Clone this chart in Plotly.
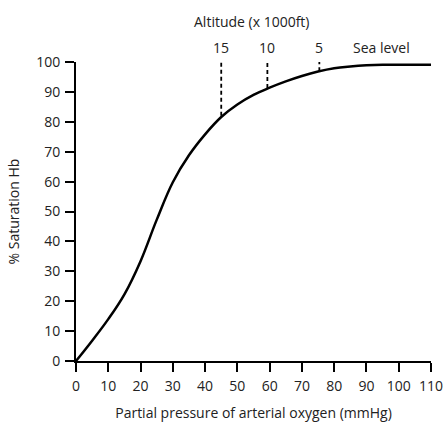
import plotly.graph_objects as go

# Oxygen-haemoglobin dissociation curve
po2 = [0, 5, 10, 15, 20, 25, 30, 35, 40, 45, 50, 55, 60, 65, 70, 75, 80, 85, 90, 95, 100, 105, 110]
sat = [0, 6.8, 14.0, 22.3, 33.4, 47.2, 59.8, 68.8, 75.8, 81.6, 85.8, 89, 91.4, 93.5, 95.3, 96.8, 97.9, 98.5, 98.9, 99.1, 99.1, 99.1, 99.1]

# Altitude markers (x 1000 ft)
alt_po2 = [45, 59.3, 75.4]
alt_sat = [82, 91.3, 96.9]
alt_labels = ["15", "10", "5"]
sea_level_x = 94.6

x_ticks = list(range(0, 111, 10))
y_ticks = list(range(0, 101, 10))

FONT = "'Open Sans', Lato, sans-serif"
TXT = "#222"
FS = 14

W, H, L, R, T, B = 443, 427, 75.5, 12, 61.5, 65.5
ph = H - T - B

def ypaper(px):
    return (H - B - px) / ph

fig = go.Figure()
fig.add_trace(go.Scatter(x=po2, y=sat, mode="lines",
                         line=dict(color="black", width=2.5, shape="spline", smoothing=1.1),
                         hoverinfo="skip", showlegend=False))

for xp, yp in zip(alt_po2, alt_sat):
    fig.add_trace(go.Scatter(x=[xp, xp], y=[yp, 100.3], mode="lines",
                             line=dict(color="black", width=1.8, dash="4px,3px"),
                             hoverinfo="skip", showlegend=False))

for xp, lab in zip(alt_po2, alt_labels):
    fig.add_annotation(x=xp, xref="x", y=ypaper(47), yref="paper", yanchor="middle",
                       text=lab, showarrow=False,
                       font=dict(family=FONT, size=FS, color=TXT))
fig.add_annotation(x=sea_level_x, xref="x", y=ypaper(47), yref="paper", yanchor="middle",
                   text="Sea level", showarrow=False, font=dict(family=FONT, size=FS, color=TXT))
fig.add_annotation(x=54.6, xref="x", y=ypaper(21), yref="paper", yanchor="middle",
                   text="Altitude (x 1000ft)", showarrow=False,
                   font=dict(family=FONT, size=FS, color=TXT))

fig.update_layout(
    width=W, height=H,
    margin=dict(l=L, r=R, t=T, b=B),
    paper_bgcolor="white", plot_bgcolor="white",
    font=dict(family=FONT, size=FS, color=TXT),
    xaxis=dict(range=[0, 110], tickvals=x_ticks, showgrid=False, zeroline=False,
               showline=True, linecolor="black", linewidth=2, automargin=False,
               ticks="outside", ticklen=9, tickwidth=2, tickcolor="black",
               ticklabeloverflow="allow", ticklabelstandoff=2,
               title=dict(text="Partial pressure of arterial oxygen (mmHg)", standoff=14,
                          font=dict(size=FS)),
               tickfont=dict(size=FS)),
    yaxis=dict(range=[0, 100], tickvals=y_ticks, showgrid=False, zeroline=False,
               showline=True, linecolor="black", linewidth=2, automargin=False,
               ticks="outside", ticklen=9, tickwidth=2, tickcolor="black",
               ticklabeloverflow="allow", ticklabelstandoff=2,
               title=dict(text="% Saturation Hb", standoff=13, font=dict(size=FS)),
               tickfont=dict(size=FS)),
)

fig.write_html("out.html", config={"displayModeBar": False},
               post_script="document.body.style.margin='0';document.body.style.overflow='hidden';")
